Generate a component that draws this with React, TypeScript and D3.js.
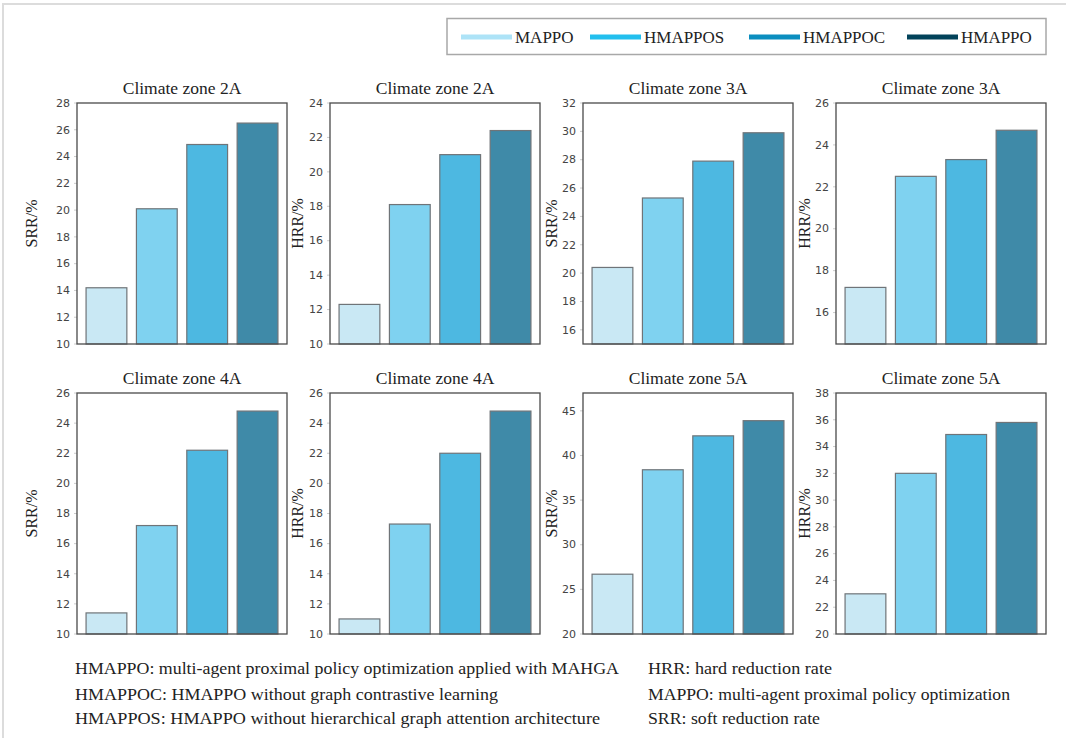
import React from "react";
import * as d3 from "d3";

const methods = ["MAPPO", "HMAPPOS", "HMAPPOC", "HMAPPO"];
const barColors = ["#c9e8f4", "#7fd2f0", "#4db8e1", "#3f8aa8"];
const legendColors = ["#ade3f7", "#22bfee", "#0b8ebf", "#02435a"];

const titles = [
  "Climate zone 2A", "Climate zone 2A", "Climate zone 3A", "Climate zone 3A",
  "Climate zone 4A", "Climate zone 4A", "Climate zone 5A", "Climate zone 5A",
];
const yLabels = ["SRR/%", "HRR/%", "SRR/%", "HRR/%", "SRR/%", "HRR/%", "SRR/%", "HRR/%"];

// values per panel, in order of methods
const srr2A = [14.2, 20.1, 24.9, 26.5];
const hrr2A = [12.3, 18.1, 21.0, 22.4];
const srr3A = [20.4, 25.3, 27.9, 29.9];
const hrr3A = [17.2, 22.5, 23.3, 24.7];
const srr4A = [11.4, 17.2, 22.2, 24.8];
const hrr4A = [11.0, 17.3, 22.0, 24.8];
const srr5A = [26.7, 38.4, 42.2, 43.9];
const hrr5A = [23.0, 32.0, 34.9, 35.8];
const panelValues = [srr2A, hrr2A, srr3A, hrr3A, srr4A, hrr4A, srr5A, hrr5A];

const yDomains = [
  [10, 28], [10, 24], [15, 32], [14.5, 26],
  [10, 26], [10, 26], [20, 47], [20, 38],
];
const tickSteps = [2, 2, 2, 2, 2, 2, 5, 2];

const notesLeft = [
  "HMAPPO: multi-agent proximal policy optimization applied with MAHGA",
  "HMAPPOC: HMAPPO without graph contrastive learning",
  "HMAPPOS: HMAPPO without hierarchical graph attention architecture",
];
const notesLeftWidth = [544, 423, 525];
const notesRight = [
  "HRR: hard reduction rate",
  "MAPPO: multi-agent proximal policy optimization",
  "SRR: soft reduction rate",
];
const notesRightWidth = [184, 362, 172];

const serif = "Liberation Serif";
const sans = "DejaVu Sans";

const W = 1066,
  H = 738;
const panelW = 210,
  panelH = 241;
const lefts = [77, 330, 583, 836];
const tops = [103, 393];
const labelOffsets = [40, 27, 26, 26];
const legendX = [461, 590, 749, 907];
const noteY = [674, 700, 724];

const Panel = ({ p }) => {
  const col = p % 4,
    row = Math.floor(p / 4);
  const vals = panelValues[p];
  const x = d3
    .scaleBand()
    .domain(methods)
    .range([0, panelW])
    .paddingInner(0.19)
    .paddingOuter(0.18);
  const y = d3.scaleLinear().domain(yDomains[p]).range([panelH, 0]);
  const ticks = d3.range(
    Math.ceil(yDomains[p][0] / tickSteps[p]) * tickSteps[p],
    yDomains[p][1] + 0.001,
    tickSteps[p]
  );

  return (
    <g transform={`translate(${lefts[col]},${tops[row]})`}>
      {ticks.map((t) => (
        <g key={t} transform={`translate(0,${y(t)})`}>
          <line x1={-3} x2={0} stroke="#ccc" />
          <text
            x={-7}
            dy="0.34em"
            textAnchor="end"
            fill="#444"
            style={{ fontFamily: sans, fontSize: "11px" }}
          >
            {t}
          </text>
        </g>
      ))}
      {vals.map((v, i) => (
        <rect
          key={methods[i]}
          x={x(methods[i])}
          y={y(v)}
          width={x.bandwidth()}
          height={panelH - y(v)}
          fill={barColors[i]}
          stroke="#6f7478"
          strokeWidth={1.2}
        />
      ))}
      <rect width={panelW} height={panelH} fill="none" stroke="#4a4a4a" strokeWidth={1.3} />
      <text
        x={panelW / 2}
        y={-9}
        textAnchor="middle"
        fill="#222"
        style={{ fontFamily: serif, fontSize: "17.5px" }}
      >
        {titles[p]}
      </text>
      <text
        transform={`translate(${-labelOffsets[col]},${panelH / 2}) rotate(-90)`}
        textAnchor="middle"
        fill="#222"
        style={{ fontFamily: serif, fontSize: "16px" }}
      >
        {yLabels[p]}
      </text>
    </g>
  );
};

const App = () => {
  return (
    <svg
      width={W}
      height={H}
      style={{ position: "absolute", left: 0, top: 0, display: "block" }}
    >
      <rect width={W} height={H} fill="#fff" />
      <path d={`M3,${H} V4 H${W}`} fill="none" stroke="#dcdcdc" strokeWidth={2} />

      {/* legend */}
      <rect x={447} y={18.5} width={599} height={36} fill="#fff" stroke="#a8a8a8" strokeWidth={1.5} />
      {methods.map((m, i) => (
        <g key={m}>
          <line
            x1={legendX[i]}
            x2={legendX[i] + 51}
            y1={37}
            y2={37}
            stroke={legendColors[i]}
            strokeWidth={5}
          />
          <text
            x={legendX[i] + 54}
            y={43}
            fill="#222"
            style={{ fontFamily: serif, fontSize: "17px" }}
          >
            {m}
          </text>
        </g>
      ))}

      {panelValues.map((_, p) => (
        <Panel key={p} p={p} />
      ))}

      {/* footnotes */}
      {notesLeft.map((t, i) => (
        <text
          key={t}
          x={75}
          y={noteY[i]}
          fill="#222"
          textLength={notesLeftWidth[i]}
          lengthAdjust="spacingAndGlyphs"
          style={{ fontFamily: serif, fontSize: "17px" }}
        >
          {t}
        </text>
      ))}
      {notesRight.map((t, i) => (
        <text
          key={t}
          x={648}
          y={noteY[i]}
          fill="#222"
          textLength={notesRightWidth[i]}
          lengthAdjust="spacingAndGlyphs"
          style={{ fontFamily: serif, fontSize: "17px" }}
        >
          {t}
        </text>
      ))}
    </svg>
  );
};

export default App;
